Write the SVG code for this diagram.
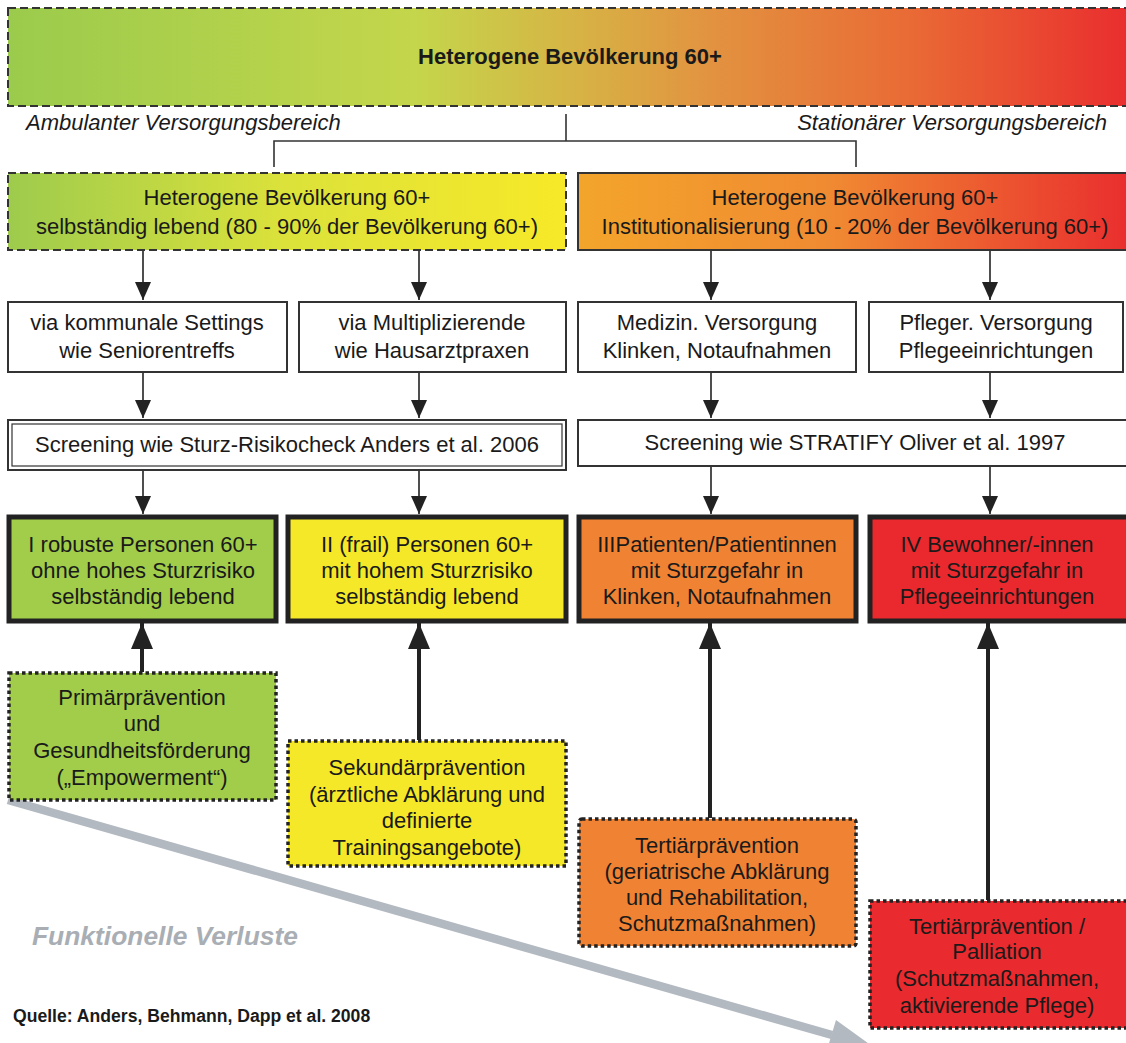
<svg xmlns="http://www.w3.org/2000/svg" width="1126" height="1043" viewBox="0 0 1126 1043">
<style>
text{font-family:"Liberation Sans",Arial,sans-serif;fill:#1a1a1a;font-size:22px;text-anchor:middle}
.lbl{font-style:italic;font-size:22px;text-anchor:start}
.dash{stroke:#333;stroke-width:2;stroke-dasharray:8 4}
.solid{stroke:#333;stroke-width:2}
.thick{stroke:#222;stroke-width:5}
.dot{stroke:#222;stroke-width:3.5;stroke-dasharray:3.5 3}
.thin{stroke:#222;stroke-width:1.6;fill:none}
.up{stroke:#222;stroke-width:4;fill:none}
.br{stroke:#333;stroke-width:1.6;fill:none}
</style>
<defs>
<linearGradient id="gTop" x1="0" x2="1" y1="0" y2="0">
<stop offset="0" stop-color="#9bcb4c"/>
<stop offset="0.36" stop-color="#c4d64b"/>
<stop offset="0.5" stop-color="#d6b445"/>
<stop offset="0.62" stop-color="#e29340"/>
<stop offset="0.8" stop-color="#e96a35"/>
<stop offset="1" stop-color="#e92b2e"/>
</linearGradient>
<linearGradient id="gA" x1="0" x2="1" y1="0" y2="0">
<stop offset="0" stop-color="#9ecb4d"/>
<stop offset="0.5" stop-color="#dce23a"/>
<stop offset="1" stop-color="#f7e928"/>
</linearGradient>
<linearGradient id="gB" x1="0" x2="1" y1="0" y2="0">
<stop offset="0" stop-color="#f3a52b"/>
<stop offset="0.45" stop-color="#f08a32"/>
<stop offset="1" stop-color="#e92b2e"/>
</linearGradient>
<marker id="ah" viewBox="0 0 18 16" refX="18" refY="8" markerWidth="18" markerHeight="16" markerUnits="userSpaceOnUse" orient="auto">
<path d="M0,0 L18,8 L0,16 Z" fill="#222"/>
</marker>
<marker id="ahU" viewBox="0 0 26 22" refX="26" refY="11" markerWidth="26" markerHeight="22" markerUnits="userSpaceOnUse" orient="auto">
<path d="M0,0 L26,11 L0,22 Z" fill="#222"/>
</marker>
</defs>

<g id="banner">
<rect x="8" y="8" width="1130" height="98" fill="url(#gTop)" class="dash"/>
<text x="570" y="64" font-weight="bold">Heterogene Bevölkerung 60+</text>
</g>
<g id="labels">
<text class="lbl" x="26" y="130">Ambulanter Versorgungsbereich</text>
<text class="lbl" x="1107" y="130" style="text-anchor:end">Stationärer Versorgungsbereich</text>
</g>

<g id="connectors">
<path class="br" d="M566,114 V141 M274,167 V141 H856 V167"/>
<line class="thin" x1="143" y1="250" x2="143" y2="300" marker-end="url(#ah)"/>
<line class="thin" x1="419" y1="250" x2="419" y2="300" marker-end="url(#ah)"/>
<line class="thin" x1="711" y1="250" x2="711" y2="300" marker-end="url(#ah)"/>
<line class="thin" x1="990" y1="250" x2="990" y2="300" marker-end="url(#ah)"/>
<line class="thin" x1="143" y1="372" x2="143" y2="418" marker-end="url(#ah)"/>
<line class="thin" x1="419" y1="372" x2="419" y2="418" marker-end="url(#ah)"/>
<line class="thin" x1="711" y1="372" x2="711" y2="418" marker-end="url(#ah)"/>
<line class="thin" x1="990" y1="372" x2="990" y2="418" marker-end="url(#ah)"/>
<line class="thin" x1="143" y1="470" x2="143" y2="514" marker-end="url(#ah)"/>
<line class="thin" x1="419" y1="470" x2="419" y2="514" marker-end="url(#ah)"/>
<line class="thin" x1="711" y1="466" x2="711" y2="514" marker-end="url(#ah)"/>
<line class="thin" x1="990" y1="466" x2="990" y2="514" marker-end="url(#ah)"/>
<line class="up" x1="142" y1="672" x2="142" y2="623" marker-end="url(#ahU)"/>
<line class="up" x1="419" y1="740" x2="419" y2="623" marker-end="url(#ahU)"/>
<line class="up" x1="710" y1="818" x2="710" y2="623" marker-end="url(#ahU)"/>
<line class="up" x1="988" y1="900" x2="988" y2="623" marker-end="url(#ahU)"/>
<g id="verluste">
<line x1="8" y1="800" x2="832" y2="1035" stroke="#b3b9c1" stroke-width="8.5"/>
<polygon points="872,1046 827,1050 836,1020" fill="#b3b9c1"/>
</g>
</g>

<g id="ambulant">
<rect x="8" y="173" width="558" height="77" fill="url(#gA)" class="dash"/>
<text x="287" y="205">Heterogene Bevölkerung 60+</text>
<text x="287" y="234">selbständig lebend (80 - 90% der Bevölkerung 60+)</text>
</g>
<g id="stationaer">
<rect x="578" y="173" width="560" height="77" fill="url(#gB)" class="solid"/>
<text x="855" y="205">Heterogene Bevölkerung 60+</text>
<text x="855" y="234">Institutionalisierung (10 - 20% der Bevölkerung 60+)</text>
</g>

<g id="kommunal">
<rect x="8" y="302" width="279" height="70" fill="#fff" class="solid"/>
<text x="147" y="330">via kommunale Settings</text>
<text x="147" y="358">wie Seniorentreffs</text>
</g>
<g id="multipl">
<rect x="299" y="302" width="267" height="70" fill="#fff" class="solid"/>
<text x="432" y="330">via Multiplizierende</text>
<text x="432" y="358">wie Hausarztpraxen</text>
</g>
<g id="medizin">
<rect x="578" y="302" width="278" height="70" fill="#fff" class="solid"/>
<text x="717" y="330">Medizin. Versorgung</text>
<text x="717" y="358">Klinken, Notaufnahmen</text>
</g>
<g id="pfleger">
<rect x="869" y="302" width="254" height="70" fill="#fff" class="solid"/>
<text x="996" y="330">Pfleger. Versorgung</text>
<text x="996" y="358">Pflegeeinrichtungen</text>
</g>

<g id="screenA">
<rect x="8" y="420" width="558" height="50" fill="#fff" class="solid"/>
<rect x="12" y="424" width="550" height="42" fill="none" stroke="#333" stroke-width="1.2"/>
<text x="287" y="452">Screening wie Sturz-Risikocheck Anders et al. 2006</text>
</g>
<g id="screenB">
<rect x="578" y="420" width="560" height="46" fill="#fff" class="solid"/>
<text x="855" y="450">Screening wie STRATIFY Oliver et al. 1997</text>
</g>

<g id="g1">
<rect x="9" y="517" width="267" height="104" fill="#a1cd4a" class="thick"/>
<text x="143" y="552">I robuste Personen 60+</text>
<text x="143" y="578">ohne hohes Sturzrisiko</text>
<text x="143" y="604">selbständig lebend</text>
</g>
<g id="g2">
<rect x="288" y="517" width="278" height="104" fill="#f5e828" class="thick"/>
<text x="427" y="552">II (frail) Personen 60+</text>
<text x="427" y="578">mit hohem Sturzrisiko</text>
<text x="427" y="604">selbständig lebend</text>
</g>
<g id="g3">
<rect x="579" y="517" width="277" height="104" fill="#f08234" class="thick"/>
<text x="717" y="552">IIIPatienten/Patientinnen</text>
<text x="717" y="578">mit Sturzgefahr in</text>
<text x="717" y="604">Klinken, Notaufnahmen</text>
</g>
<g id="g4">
<rect x="870" y="517" width="270" height="104" fill="#e9292e" class="thick"/>
<text x="997" y="552">IV Bewohner/-innen</text>
<text x="997" y="578">mit Sturzgefahr in</text>
<text x="997" y="604">Pflegeeinrichtungen</text>
</g>

<g id="primaer">
<rect x="9" y="673" width="267" height="127" fill="#a1cd4a" class="dot"/>
<text x="142" y="705">Primärprävention</text>
<text x="142" y="731">und</text>
<text x="142" y="758">Gesundheitsförderung</text>
<text x="142" y="785">(„Empowerment“)</text>
</g>
<g id="sekundaer">
<rect x="288" y="741" width="278" height="125" fill="#f5e828" class="dot"/>
<text x="427" y="775">Sekundärprävention</text>
<text x="427" y="802">(ärztliche Abklärung und</text>
<text x="427" y="828">definierte</text>
<text x="427" y="855">Trainingsangebote)</text>
</g>
<g id="tertiaer">
<rect x="579" y="819" width="277" height="127" rx="3" fill="#f08234" class="dot"/>
<text x="717" y="853">Tertiärprävention</text>
<text x="717" y="879">(geriatrische Abklärung</text>
<text x="717" y="905">und  Rehabilitation,</text>
<text x="717" y="931">Schutzmaßnahmen)</text>
</g>
<g id="palliation">
<rect x="870" y="901" width="270" height="127" fill="#e92a2e" class="dot"/>
<text x="997" y="934">Tertiärprävention /</text>
<text x="997" y="959">Palliation</text>
<text x="997" y="986">(Schutzmaßnahmen,</text>
<text x="997" y="1013">aktivierende Pflege)</text>
</g>

<g id="notes">
<text x="32" y="945" style="text-anchor:start;font-weight:bold;font-style:italic;font-size:26.4px;fill:#a9aeb4">Funktionelle Verluste</text>
<text x="13" y="1022" style="text-anchor:start;font-weight:bold;font-size:17.6px">Quelle: Anders, Behmann, Dapp et al. 2008</text>
</g>
</svg>
